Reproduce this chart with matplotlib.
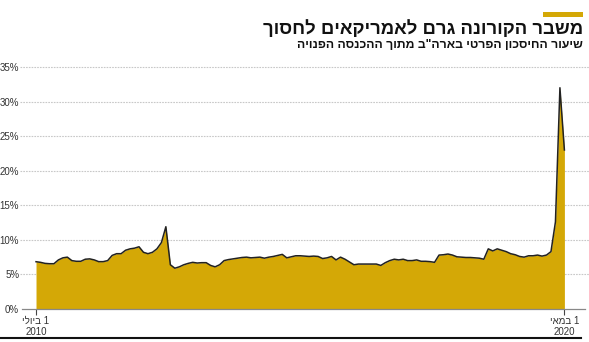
import matplotlib.pyplot as plt
from matplotlib.lines import Line2D
from matplotlib.patches import Rectangle

# Personal saving rate, monthly, Jul 2010 .. May 2020
saving_rate = [
    6.84, 6.75, 6.6, 6.55, 6.55, 7.1, 7.4, 7.5, 7.0, 6.9,
    6.9, 7.2, 7.25, 7.1, 6.85, 6.85, 7.0, 7.75, 8.0, 8.0,
    8.5, 8.7, 8.8, 9.0, 8.2, 8.0, 8.2, 8.7, 9.6, 11.9,
    6.4, 5.9, 6.1, 6.4, 6.6, 6.75, 6.65, 6.7, 6.7, 6.3,
    6.1, 6.4, 7.0, 7.15, 7.25, 7.35, 7.45, 7.5, 7.4, 7.45,
    7.5, 7.35, 7.5, 7.6, 7.75, 7.9, 7.4, 7.55, 7.7, 7.7,
    7.65, 7.6, 7.65, 7.6, 7.3, 7.4, 7.6, 7.1, 7.5, 7.2,
    6.8, 6.4, 6.5, 6.5, 6.5, 6.5, 6.5, 6.3, 6.7, 7.0,
    7.2, 7.1, 7.2, 7.0, 7.0, 7.1, 6.9, 6.9, 6.85, 6.75,
    7.8, 7.85, 7.95, 7.8, 7.55, 7.5, 7.45, 7.45, 7.4, 7.35,
    7.2, 8.7, 8.4, 8.7, 8.5, 8.3, 8.0, 7.85, 7.6, 7.5,
    7.7, 7.7, 7.8, 7.65, 7.8, 8.3, 12.6, 32.0, 23.0,
]
months = list(range(len(saving_rate)))  # 0 = Jul 2010

y_ticks = [0, 5, 10, 15, 20, 25, 30, 35]
y_labels = ["0%", "5%", "10%", "15%", "20%", "25%", "30%", "35%"]
x_ticks = [0, 118]
# Hebrew is stored in visual (left-to-right) order, matplotlib has no bidi
x_labels = ["1 ביולי"[::-1] + "\n2010", "1 במאי"[::-1] + "\n2020"]

title = "משבר הקורונה גרם לאמריקאים לחסוך"[::-1]
subtitle = 'שיעור החיסכון הפרטי בארה"ב מתוך ההכנסה הפנויה'[::-1]

gold = "#D4A806"
font = ["Liberation Sans Narrow", "Liberation Sans", "DejaVu Sans"]
plt.rcParams["font.family"] = font

W, H = 589, 342
fig = plt.figure(figsize=(W / 100, H / 100), dpi=100)
ax = fig.add_axes([22 / W, 1 - 309 / H, 563 / W, 242 / H])

ax.fill_between(months, saving_rate, 0, color=gold, lw=0)
ax.plot(months, saving_rate, color="#222222", lw=1.1)

ax.set_ylim(0, 35)
ax.set_xlim(-3.13, 122.6)
ax.set_yticks(y_ticks)
ax.set_yticklabels(y_labels, fontsize=7, color="#333333")
ax.set_xticks(x_ticks)
ax.set_xticklabels(x_labels, fontsize=7, color="#333333", linespacing=1.1)
ax.tick_params(axis="y", length=0, pad=2)
ax.tick_params(axis="x", length=4, width=0.8, color="#444444", pad=1)

for v in y_ticks[1:]:
    ax.axhline(v, xmin=-0.004, xmax=1.01, color="#c8c8c8", lw=0.8,
               ls=(0, (1.5, 1)), zorder=0, clip_on=False)

for s in ["top", "right", "left"]:
    ax.spines[s].set_visible(False)
ax.spines["bottom"].set_color("#888888")
ax.spines["bottom"].set_linewidth(0.9)

# header
fig.add_artist(Rectangle((543 / W, 1 - 17 / H), 40 / W, 5 / H,
                         transform=fig.transFigure, color=gold, lw=0))
fig.text(583 / W, 1 - 29 / H, title, ha="right", va="center",
         fontsize=13.3, fontweight="bold", color="#111111")
fig.text(583 / W, 1 - 45.5 / H, subtitle, ha="right", va="center",
         fontsize=8.8, fontweight="bold", color="#111111")

# bottom rule
fig.add_artist(Line2D([0, 581 / W], [1 - 337.5 / H] * 2,
                      transform=fig.transFigure, color="#111111", lw=1.5))

fig.savefig("out.png", dpi=100)
